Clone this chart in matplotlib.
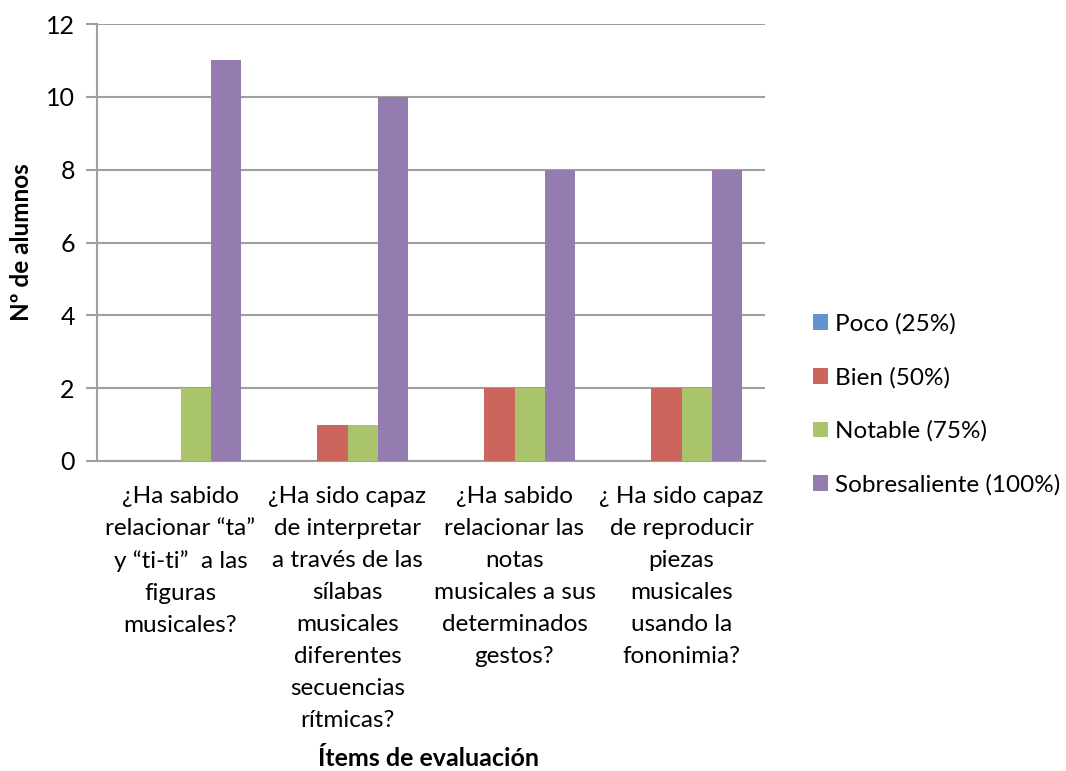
import matplotlib
matplotlib.use("Agg")
import matplotlib.pyplot as plt
import numpy as np
from matplotlib.patches import Patch

categories = [
    "¿Ha sabido\nrelacionar “ta”\ny “ti-ti”  a las\nfiguras\nmusicales?",
    "¿Ha sido capaz\nde interpretar\na través de las\nsílabas\nmusicales\ndiferentes\nsecuencias\nrítmicas?",
    "¿Ha sabido\nrelacionar las\nnotas\nmusicales a sus\ndeterminados\ngestos?",
    "¿ Ha sido capaz\nde reproducir\npiezas\nmusicales\nusando la\nfononimia?",
]
series_names = ["Poco (25%)", "Bien (50%)", "Notable (75%)", "Sobresaliente (100%)"]
poco = [0, 0, 0, 0]
bien = [0, 1, 2, 2]
notable = [2, 1, 2, 2]
sobresaliente = [11, 10, 8, 8]
yticks = [0, 2, 4, 6, 8, 10, 12]
colors = ["#6394CC", "#CD655F", "#AAC46C", "#947CB0"]

plt.rcParams["font.family"] = ["Lato", "DejaVu Sans"]

fig = plt.figure(figsize=(10.66, 7.71), dpi=100)
ax = fig.add_axes([97 / 1066, 1 - 461 / 771, (765 - 97) / 1066, (461 - 24) / 771])

x = np.arange(len(categories))
w = 0.1815
data = [poco, bien, notable, sobresaliente]
for i, (vals, c) in enumerate(zip(data, colors)):
    ax.bar(x + (i - 1.5) * w, vals, width=w, color=c, zorder=3, linewidth=0)

ax.set_xlim(-0.5, len(categories) - 0.5)
ax.set_ylim(0, 12)
ax.set_yticks(yticks)
ax.set_yticklabels([str(t) for t in yticks], fontsize=18)
ax.set_xticks(x)
ax.set_xticklabels(categories, fontsize=17.5, linespacing=1.645)
ax.tick_params(axis="x", length=0, pad=18)
ax.tick_params(axis="y", length=8, width=1.5, color="#a0a0a0", pad=8)

ax.yaxis.grid(True, color="#a0a0a0", linewidth=1.5, zorder=0)
ax.set_axisbelow(True)
for s in ["top", "right"]:
    ax.spines[s].set_visible(False)
for s in ["left", "bottom"]:
    ax.spines[s].set_color("#a0a0a0")
    ax.spines[s].set_linewidth(1.5)

fig.text(22 / 1066, 1 - 242 / 771, "Nº de alumnos", fontsize=17.5,
         fontweight="bold", rotation=90, ha="center", va="center")
fig.text(429 / 1066, 1 - 766 / 771, "Ítems de evaluación", fontsize=18,
         fontweight="bold", ha="center", va="baseline")

handles = [Patch(facecolor=c, edgecolor="none") for c in colors]
fig.legend(handles, series_names, loc="center left",
           bbox_to_anchor=(813 / 1066, 1 - 404.5 / 771), frameon=False,
           fontsize=17.5, handlelength=0.62, handleheight=0.62,
           handletextpad=0.3, labelspacing=1.32, borderpad=0, borderaxespad=0)

fig.savefig("out.png", dpi=100)
